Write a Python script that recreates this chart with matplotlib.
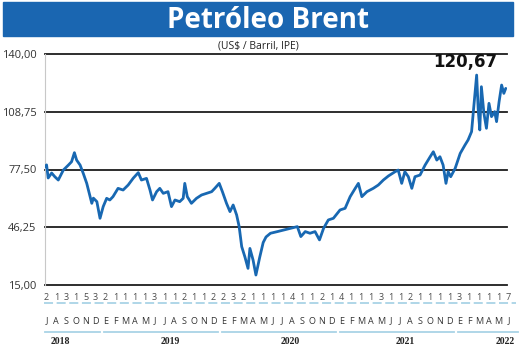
import matplotlib
matplotlib.use("Agg")
import matplotlib.pyplot as plt
from matplotlib.patches import Rectangle
from matplotlib.lines import Line2D
from matplotlib.ticker import FuncFormatter
import pandas as pd

# ---------------- data ----------------
title = "Petróleo Brent"
subtitle = "(US$ / Barril, IPE)"
last_label = "120,67"

dates = [
    "2018-07-01", "2018-07-06", "2018-07-11", "2018-07-22", "2018-08-01", "2018-08-12",
    "2018-08-28", "2018-09-13", "2018-09-23", "2018-10-02", "2018-10-09", "2018-10-20",
    "2018-10-30", "2018-11-10", "2018-11-18", "2018-11-26", "2018-12-01", "2018-12-12",
    "2018-12-22", "2019-01-01", "2019-01-12", "2019-01-22", "2019-02-01", "2019-02-17",
    "2019-03-05", "2019-03-21", "2019-04-06", "2019-04-22", "2019-05-02", "2019-05-18",
    "2019-05-29", "2019-06-06", "2019-06-19", "2019-06-29", "2019-07-10", "2019-07-25",
    "2019-08-05", "2019-08-16", "2019-08-31", "2019-09-11", "2019-09-16", "2019-09-24",
    "2019-10-07", "2019-10-23", "2019-11-08", "2019-11-24", "2019-12-10", "2019-12-20",
    "2020-01-03", "2020-01-13", "2020-01-26", "2020-02-06", "2020-02-16", "2020-02-27",
    "2020-03-06", "2020-03-14", "2020-03-24", "2020-04-03", "2020-04-09", "2020-04-19",
    "2020-04-28", "2020-05-10", "2020-05-21", "2020-05-30", "2020-06-13", "2020-07-05",
    "2020-07-26", "2020-08-16", "2020-09-06", "2020-09-17", "2020-10-01", "2020-10-16",
    "2020-11-01", "2020-11-15", "2020-11-28", "2020-12-13", "2020-12-29", "2021-01-19",
    "2021-02-04", "2021-02-20", "2021-03-08", "2021-03-18", "2021-03-29", "2021-04-14",
    "2021-05-04", "2021-05-20", "2021-06-05", "2021-06-21", "2021-07-12", "2021-07-22",
    "2021-08-02", "2021-08-12", "2021-08-23", "2021-09-03", "2021-09-13", "2021-09-29",
    "2021-10-15", "2021-10-31", "2021-11-10", "2021-11-21", "2021-12-01", "2021-12-11",
    "2021-12-20", "2021-12-27", "2022-01-04", "2022-01-18", "2022-02-03", "2022-02-18",
    "2022-02-28", "2022-03-11", "2022-03-18", "2022-03-27", "2022-04-01", "2022-04-06",
    "2022-04-11", "2022-04-19", "2022-04-27", "2022-05-05", "2022-05-13", "2022-05-23",
    "2022-05-29", "2022-06-06", "2022-06-14", "2022-06-21", "2022-06-27",
]
prices = [
    79.0, 80.0, 72.9, 75.6, 73.6, 71.8,
    77.2, 79.9, 81.7, 86.6, 82.6, 79.9,
    75.4, 70.0, 64.6, 59.2, 62.0, 60.1,
    51.1, 57.4, 61.9, 61.0, 62.8, 67.3,
    66.4, 69.1, 72.8, 75.8, 71.8, 72.7,
    66.4, 61.0, 65.5, 67.3, 64.6, 65.5,
    57.4, 61.0, 60.1, 61.9, 70.0, 62.8,
    59.2, 61.9, 63.7, 64.6, 65.5, 67.3,
    70.0, 65.5, 59.2, 54.7, 58.3, 52.9,
    46.6, 35.8, 30.3, 24.0, 34.8, 28.5,
    20.4, 30.0, 38.0, 41.0, 43.0, 43.9,
    44.8, 45.7, 46.6, 41.2, 43.9, 43.0,
    43.9, 39.4, 45.7, 50.2, 51.1, 55.6,
    56.5, 62.8, 67.3, 70.0, 62.8, 65.5,
    67.3, 69.1, 71.8, 74.0, 76.3, 77.2,
    70.0, 76.3, 73.6, 67.3, 73.6, 74.5,
    79.9, 84.4, 87.1, 82.6, 84.4, 79.9,
    70.0, 76.3, 73.6, 78.1, 86.2, 90.7,
    93.5, 98.0, 111.5, 128.6, 109.7, 98.9,
    122.3, 107.9, 99.8, 113.3, 106.1, 108.8,
    103.4, 114.2, 123.2, 118.7, 121.4,
]

y_ticks = [15.00, 46.25, 77.50, 108.75, 140.00]

month_letters = list("JASOND") + list("EFMAMJJASOND") * 3 + list("EFMAMJ")
count_labels = ["2", "1", "3", "1", "5", "3",
                "2", "1", "1", "1", "1", "3", "1", "1", "2", "1", "1", "2",
                "2", "3", "2", "1", "1", "1", "1", "4", "1", "1", "2", "1",
                "4", "1", "1", "1", "3", "1", "1", "2", "1", "1", "1", "1",
                "3", "1", "1", "1", "1", "7"]
years = ["2018", "2019", "2020", "2021", "2022"]
months_per_year = [6, 12, 12, 12, 6]

# ---------------- layout / style ----------------
W, H = 520, 352
BLUE = "#1a66b1"
LINE_BLUE = "#1868b2"
LIGHT_BLUE = "#a9d3e6"

fig = plt.figure(figsize=(W / 100, H / 100), dpi=100)
fig.patch.set_facecolor("white")

def fx(px):
    return px / W

def fy(py):
    return 1 - py / H

ax = fig.add_axes([fx(45), fy(285), fx(507) - fx(45), fy(54) - fy(285)])

ax.set_xlim(pd.Timestamp("2018-07-01"), pd.Timestamp("2022-07-01"))
ax.set_ylim(y_ticks[0], y_ticks[-1])

for v in y_ticks:
    ax.axhline(v, color="#1c1c1c", lw=1.3, clip_on=False, zorder=1)

ax.plot(pd.to_datetime(dates), prices, color=LINE_BLUE, lw=2.0,
        solid_joinstyle="round", solid_capstyle="round", zorder=3)

ax.set_yticks(y_ticks)
ax.yaxis.set_major_formatter(FuncFormatter(lambda v, p: f"{v:.2f}".replace(".", ",")))
ax.tick_params(axis="y", length=0, pad=6, labelsize=8, labelcolor="#333333")
for lab in ax.get_yticklabels():
    lab.set_family("Open Sans")
ax.set_xticks([])
for s in ["top", "right", "bottom"]:
    ax.spines[s].set_visible(False)
ax.spines["left"].set_color("#c8c8c8")
ax.spines["left"].set_linewidth(0.8)

# banner
fig.patches.append(Rectangle((fx(3), fy(36)), fx(513) - fx(3), fy(2) - fy(36),
                             transform=fig.transFigure, color=BLUE, zorder=0))
fig.text(fx(268), fy(20), title, ha="center", va="center", color="white",
         fontsize=20, fontweight="bold", family="Open Sans")
fig.text(fx(258), fy(46), subtitle, ha="center", va="center", color="#222222",
         fontsize=7.5, family="Open Sans")
fig.text(fx(465), fy(62), last_label, ha="center", va="center", color="#111111",
         fontsize=12, fontweight="bold", family="DejaVu Sans")

# bottom labels
n = len(month_letters)
first_px, last_px = 46.5, 508.5
step = (last_px - first_px) / (n - 1)
pos = [first_px + k * step for k in range(n)]

for k in range(n):
    fig.text(fx(pos[k]), fy(297), count_labels[k], ha="center", va="center",
             fontsize=6.5, color="#4a4a4a", family="Open Sans")
    fig.text(fx(pos[k]), fy(321), month_letters[k], ha="center", va="center",
             fontsize=6.5, color="#333333", family="Open Sans")

fig.lines.append(Line2D([fx(44), fx(516)], [fy(303), fy(303)], transform=fig.transFigure,
                       color=LIGHT_BLUE, lw=1.3, linestyle=(0, (5, 2))))

start = 0
year_label_px = [60, 170, 290, 405, 505]
for i, (yr, m) in enumerate(zip(years, months_per_year)):
    a = pos[start] - 1.5
    b = pos[start + m - 1] + 4.5 if i < len(years) - 1 else 518
    fig.lines.append(Line2D([fx(a), fx(b)], [fy(332), fy(332)], transform=fig.transFigure,
                           color=LIGHT_BLUE, lw=1.3))
    fig.text(fx(year_label_px[i]), fy(342), yr, ha="center", va="center",
             fontsize=7, fontweight="bold", color="#222222", family="Liberation Serif")
    start += m

fig.savefig("out.png", dpi=100)
